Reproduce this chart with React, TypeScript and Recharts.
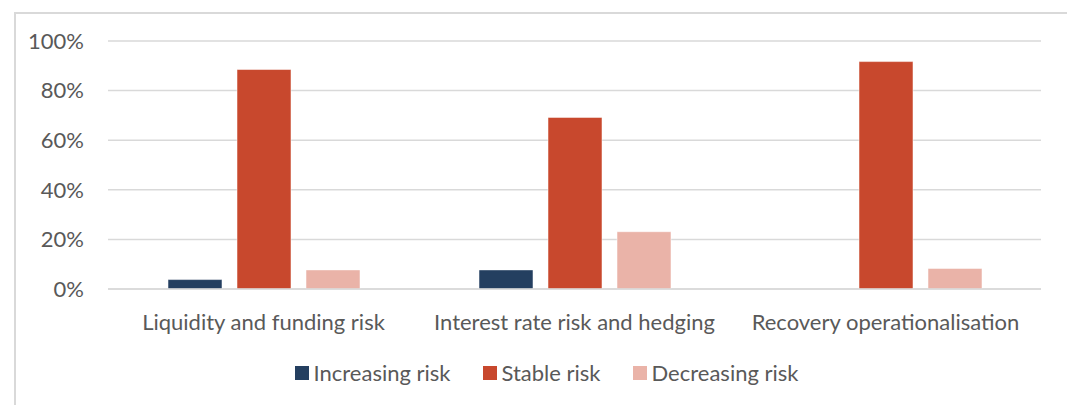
import { BarChart, Bar, XAxis, YAxis, CartesianGrid } from "recharts";

const categories = [
    "Liquidity and funding risk",
    "Interest rate risk and hedging",
    "Recovery operationalisation",
];
const increasing = [3.8, 7.7, 0];
const stable = [88.5, 69.2, 91.7];
const decreasing = [7.7, 23.1, 8.3];
const yTicks = [0, 20, 40, 60, 80, 100];

const series = [
    { key: "increasing", name: "Increasing risk", color: "#243F60" },
    { key: "stable", name: "Stable risk", color: "#C8482D" },
    { key: "decreasing", name: "Decreasing risk", color: "#EAB3A8" },
];

const data = categories.map((name, i) => ({
    name,
    increasing: increasing[i],
    stable: stable[i],
    decreasing: decreasing[i],
}));

const FONT = "Lato, 'Open Sans', sans-serif";
const TEXT = "#595959";

// legend row: small squares + labels, centred under the plot
const LegendRow = () => (
    <div
        style={{
            position: "absolute",
            left: 13,
            top: 359,
            width: 1067,
            display: "flex",
            justifyContent: "center",
            gap: 32,
            fontFamily: FONT,
            fontSize: 22,
            color: TEXT,
        }}
    >
        {series.map((s) => (
            <div key={s.key} style={{ display: "flex", alignItems: "center" }}>
                <span style={{ width: 14, height: 14, background: s.color, marginRight: 5, display: "inline-block" }} />
                <span>{s.name}</span>
            </div>
        ))}
    </div>
);

const App = () => (
    <div style={{ position: "absolute", left: 0, top: 0, width: 1067, height: 405, overflow: "hidden", background: "#fff" }}>
        <div
            style={{
                position: "absolute",
                left: 14,
                top: 12,
                width: 1080,
                height: 420,
                border: "2px solid #d9d9d9",
                boxSizing: "border-box",
            }}
        />
        <BarChart
            width={1067}
            height={405}
            data={data}
            margin={{ top: 41, right: 26, left: 0, bottom: 0 }}
            barSize={54}
            barGap={15}
            style={{ position: "absolute", left: 0, top: 0 }}
        >
            <CartesianGrid vertical={false} stroke="#d9d9d9" strokeWidth={1.5} />
            <XAxis
                dataKey="name"
                height={116}
                tickLine={false}
                axisLine={{ stroke: "#d9d9d9", strokeWidth: 1.5 }}
                tickSize={0}
                tickMargin={25}
                tick={{ fill: TEXT, fontSize: 22, fontFamily: FONT }}
                interval={0}
            />
            <YAxis
                width={108}
                domain={[0, 100]}
                ticks={yTicks}
                tickFormatter={(v: number) => `${v}%`}
                axisLine={false}
                tickLine={false}
                tickSize={0}
                tickMargin={24}
                tick={{ fill: TEXT, fontSize: 22, fontFamily: FONT }}
            />
            {series.map((s) => (
                <Bar
                    key={s.key}
                    dataKey={s.key}
                    name={s.name}
                    fill={s.color}
                    stroke="#ffffff"
                    strokeOpacity={0.5}
                    isAnimationActive={false}
                />
            ))}
        </BarChart>
        <LegendRow />
    </div>
);

export default App;
